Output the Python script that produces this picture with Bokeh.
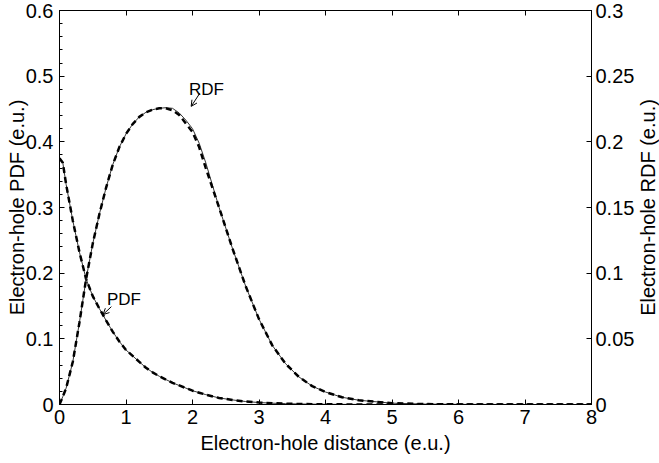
import math
from bokeh.plotting import figure
from bokeh.models import (Range1d, LinearAxis, FixedTicker, CustomJSTickFormatter,
                          Label, Arrow, OpenHead, ColumnDataSource)
from bokeh.embed import file_html
from bokeh.resources import INLINE

# ---- data ----
distance = [0.0, 0.05, 0.1, 0.2, 0.3, 0.4, 0.5, 0.6, 0.7, 0.8, 0.9, 1.0, 1.1, 1.2, 1.3, 1.4,
            1.5, 1.6, 1.7, 1.8, 1.9, 2.0, 2.1, 2.2, 2.4, 2.6, 2.8, 3.0, 3.2, 3.4, 3.6, 3.8,
            4.0, 4.25, 4.5, 5.0, 5.5, 6.0, 7.0, 8.0]

# electron-hole PDF (left axis)
pdf_exact = [0.375, 0.368, 0.335, 0.280, 0.232, 0.191, 0.165, 0.146, 0.128, 0.111, 0.096,
             0.083, 0.074, 0.065, 0.056, 0.049, 0.043, 0.038, 0.033, 0.029, 0.025, 0.021,
             0.018, 0.015, 0.010, 0.007, 0.0045, 0.003, 0.002, 0.0013, 0.0008, 0.0005,
             0.0003, 0.0002, 0.0001, 0.0, 0.0, 0.0, 0.0, 0.0]
pdf_model = [0.375, 0.368, 0.335, 0.280, 0.232, 0.191, 0.165, 0.146, 0.128, 0.111, 0.096,
             0.083, 0.074, 0.065, 0.056, 0.049, 0.043, 0.038, 0.033, 0.029, 0.025, 0.021,
             0.018, 0.015, 0.010, 0.007, 0.0045, 0.003, 0.002, 0.0013, 0.0008, 0.0005,
             0.0003, 0.0002, 0.0001, 0.0, 0.0, 0.0, 0.0, 0.0]

# electron-hole RDF (right axis)
rdf_exact = [0.0, 0.006, 0.0125, 0.0325, 0.0625, 0.0955, 0.1225, 0.145, 0.165, 0.1825,
             0.196, 0.206, 0.2135, 0.219, 0.2225, 0.2245, 0.2255, 0.226, 0.2255, 0.222,
             0.2165, 0.21, 0.199, 0.184, 0.150, 0.119, 0.090, 0.065, 0.045, 0.031, 0.021,
             0.014, 0.0095, 0.0055, 0.00325, 0.001, 0.0003, 0.0001, 0.0, 0.0]
rdf_model = [0.0, 0.006, 0.0125, 0.0325, 0.0625, 0.0955, 0.1225, 0.145, 0.165, 0.1825,
             0.196, 0.206, 0.2135, 0.219, 0.2225, 0.2245, 0.2255, 0.2255, 0.224, 0.2205,
             0.214, 0.2075, 0.196, 0.180, 0.150, 0.119, 0.090, 0.065, 0.045, 0.031, 0.021,
             0.014, 0.0095, 0.0055, 0.00325, 0.001, 0.0003, 0.0001, 0.0, 0.0]

# tick values
x_ticks = [0, 1, 2, 3, 4, 5, 6, 7, 8]
pdf_ticks = [0, 0.1, 0.2, 0.3, 0.4, 0.5, 0.6]
pdf_minor_ticks = [round(i * 0.02, 2) for i in range(31)]
rdf_ticks = [0, 0.05, 0.1, 0.15, 0.2, 0.25, 0.3]

FONT = "Liberation Sans"
FS = "20px"

src = ColumnDataSource(dict(x=distance, pdf_e=pdf_exact, pdf_m=pdf_model,
                            rdf_e=rdf_exact, rdf_m=rdf_model))

p = figure(width=659, height=463, x_range=Range1d(0, 8), y_range=Range1d(0, 0.6),
           output_backend="svg", toolbar_location=None,
           min_border_left=58, min_border_right=68, min_border_top=10, min_border_bottom=59)
p.extra_y_ranges = {"rdf": Range1d(0, 0.3)}
p.xgrid.visible = False
p.ygrid.visible = False
p.outline_line_color = "black"
p.outline_line_width = 1
p.background_fill_color = "white"
p.border_fill_color = "white"

fmt = CustomJSTickFormatter(code="return String(parseFloat(tick.toFixed(3)));")


def style_axis(ax, ticker, label=None, minor=False):
    ax.ticker = ticker
    ax.formatter = fmt
    ax.axis_line_color = "black"
    ax.axis_line_width = 1
    ax.major_tick_in = 5
    ax.major_tick_out = 0
    ax.major_tick_line_color = "black"
    if minor:
        ax.minor_tick_in = 3
        ax.minor_tick_out = 0
        ax.minor_tick_line_color = "black"
    else:
        ax.minor_tick_line_color = None
    ax.major_label_text_font = FONT
    ax.major_label_text_font_size = FS
    ax.major_label_text_color = "black"
    ax.major_label_standoff = 5
    if label:
        ax.axis_label = label
        ax.axis_label_text_font = FONT
        ax.axis_label_text_font_size = FS
        ax.axis_label_text_font_style = "normal"
        ax.axis_label_text_color = "black"
        ax.axis_label_standoff = 5


style_axis(p.xaxis[0], FixedTicker(ticks=x_ticks), "Electron-hole distance (e.u.)")
style_axis(p.yaxis[0], FixedTicker(ticks=pdf_ticks, minor_ticks=pdf_minor_ticks), minor=True)
p.yaxis[0].major_label_standoff = 6

right = LinearAxis(y_range_name="rdf")
style_axis(right, FixedTicker(ticks=rdf_ticks))
right.major_label_standoff = 4
p.add_layout(right, "right")

top = LinearAxis()
style_axis(top, FixedTicker(ticks=x_ticks))
top.major_label_text_color = None
top.major_label_standoff = 0
p.add_layout(top, "above")

# y-axis titles, read bottom-to-top on both sides
left_title = Label(x=16, y=207, x_units="canvas", y_units="canvas",
                   text="Electron-hole PDF (e.u.)", text_font=FONT, text_font_size=FS,
                   text_align="center", text_baseline="middle", angle=math.pi / 2,
                   text_color="black")
right_title = Label(x=647, y=207, x_units="canvas", y_units="canvas",
                    text="Electron-hole RDF (e.u.)", text_font=FONT, text_font_size=FS,
                    text_align="center", text_baseline="middle", angle=math.pi / 2,
                    text_color="black")
p.add_layout(left_title, "left")
p.add_layout(right_title, "right")

# curves
p.line("x", "pdf_e", source=src, line_color="#333333", line_width=1)
p.line("x", "pdf_m", source=src, line_color="black", line_width=2.5, line_dash="6 4")
p.line("x", "rdf_e", source=src, y_range_name="rdf", line_color="#333333", line_width=1)
p.line("x", "rdf_m", source=src, y_range_name="rdf", line_color="black", line_width=2.5,
       line_dash="6 4")

# annotations
p.add_layout(Label(x=2.21, y=0.479, text="RDF", text_font=FONT, text_font_size="17px",
                   text_align="center", text_baseline="alphabetic", text_color="black"))
p.add_layout(Arrow(x_start=2.11, y_start=0.474, x_end=1.98, y_end=0.454,
                   line_color="black", line_width=1,
                   end=OpenHead(size=6, line_color="black", line_width=1)))
p.add_layout(Label(x=0.97, y=0.16, text="PDF", text_font=FONT, text_font_size="17px",
                   text_align="center", text_baseline="alphabetic", text_color="black"))
p.add_layout(Arrow(x_start=0.78, y_start=0.149, x_end=0.655, y_end=0.137,
                   line_color="black", line_width=1,
                   end=OpenHead(size=6, line_color="black", line_width=1)))

open("out.html", "w").write(file_html(p, INLINE))
